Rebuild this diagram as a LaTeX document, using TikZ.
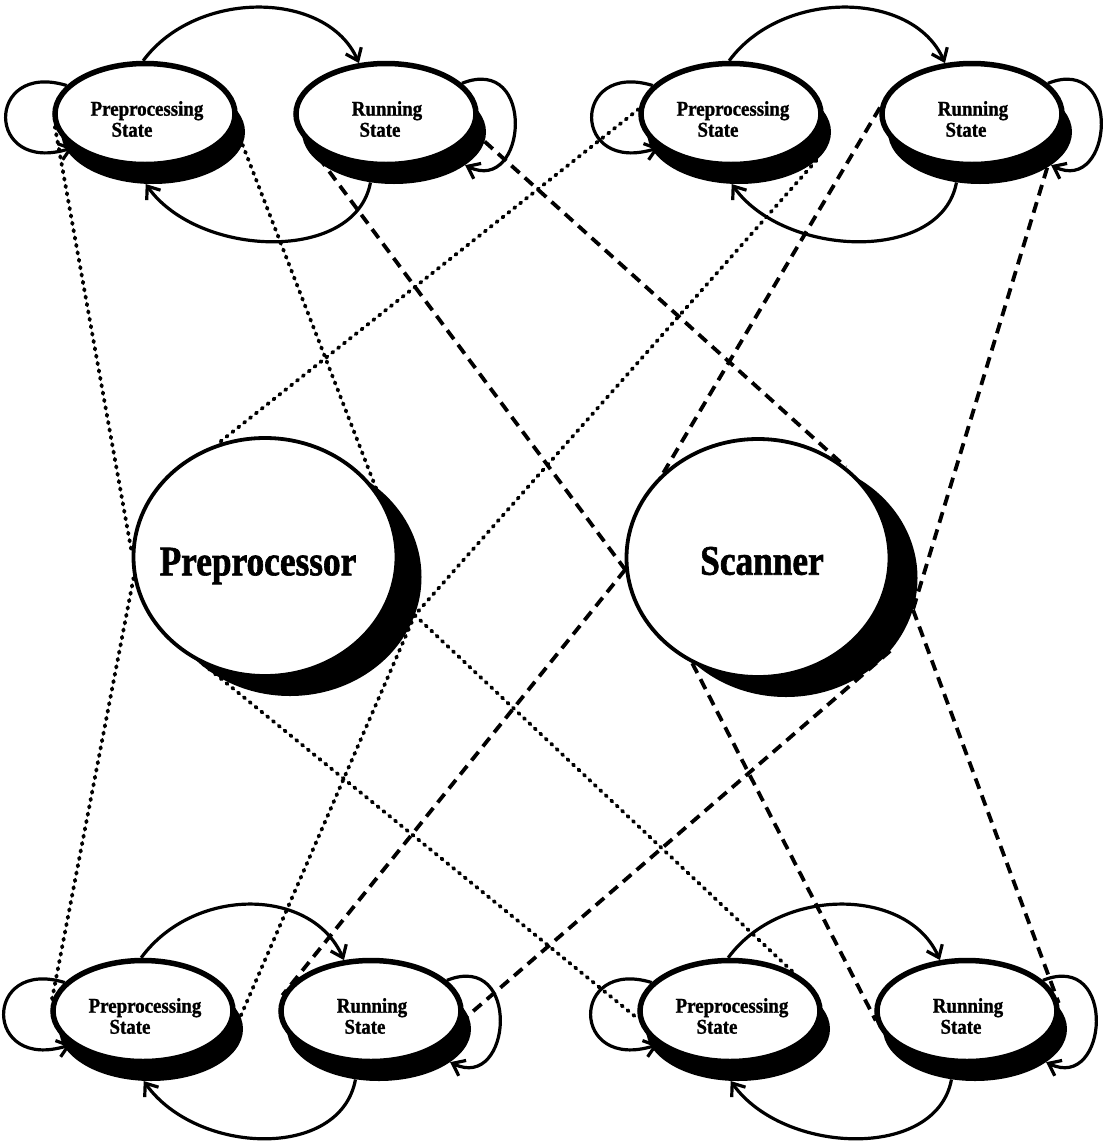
\documentclass[tikz,border=0pt]{standalone}
\usepackage{fontspec}
\setmainfont{Liberation Serif}
\newfontfamily\smallfont[FakeStretch=0.9,FakeBold=1.2]{Liberation Serif}
\newfontfamily\bigfont[FakeStretch=0.84,FakeBold=1.5]{Liberation Serif}
\usetikzlibrary{shapes.geometric,arrows.meta,calc}
\pgfdeclarelayer{bg}
\pgfsetlayers{bg,main}
\begin{document}
\begin{tikzpicture}[x=1pt,y=-1pt,
  smallell/.style={ellipse, draw, line width=5.5pt, fill=white, minimum width=180pt, minimum height=101pt, inner sep=0pt},
  smallsh/.style={ellipse, fill=black, minimum width=184pt, minimum height=104pt, inner sep=0pt},
  smalltext/.style={font=\smallfont\bfseries\fontsize{21}{21}\selectfont, align=center, inner sep=0pt},
  bigell/.style={ellipse, draw, line width=3.8pt, fill=white, minimum width=263pt, minimum height=238pt, inner sep=0pt},
  bigsh/.style={ellipse, fill=black, minimum width=263pt, minimum height=238pt, inner sep=0pt},
  bigtext/.style={font=\bigfont\bfseries\fontsize{42}{42}\selectfont, inner sep=0pt},
  loopline/.style={line width=3.2pt, -{Straight Barb[length=11pt,width=17pt]}},
  preline/.style={line width=3.8pt, line cap=round, dash pattern=on 1.5pt off 6pt},
  scanline/.style={line width=3.8pt, dash pattern=on 11pt off 7pt}]
\begin{pgfonlayer}{bg}
\fill[white] (0,0) rectangle (1108,1141);
\end{pgfonlayer}
\useasboundingbox (0,0) rectangle (1108,1141);

% central ellipses
\node[bigsh] (preS) at (290,577) {};
\node[bigell] (pre) at (265,557) {};
\node[bigtext] (pret) at (258,566) {Preprocessor};
\node[bigsh] (scS) at (786,578) {};
\node[bigell] (sc) at (758,558) {};
\node[bigtext] (sct) at (762,561) {Scanner};

% the four state pairs
\foreach \g/\px/\rx/\yy in {tl/145/386/114, tr/731/972/114, bl/143/371/1011, br/730/967/1011}{
  \node[smallsh] (\g psS) at (\px+8,\yy+18) {};
  \node[smallsh] (\g rsS) at (\rx+8,\yy+18) {};
  \node[smallell] (\g ps) at (\px,\yy) {};
  \node[smallell] (\g rs) at (\rx,\yy) {};
  \node[smalltext] (\g pst) at (\px+2,\yy+5) {Preprocessing\\State\hspace*{30pt}};
  \node[smalltext] (\g rst) at (\rx+1,\yy+5) {Running\\State\hspace*{14pt}};
  \draw[loopline] (\g ps.92) .. controls +(53,-72) and +(-32,-73) .. (\g rs.118);
  \draw[loopline] (\g rsS.245) .. controls +(-15,81) and +(53,74) .. (\g psS.262);
  \draw[loopline] (\g ps.160) .. controls +(-82,-25) and +(-88,28) .. (\g ps.205);
  \draw[loopline] (\g rs.22) .. controls +(75,-30) and +(62,30) .. (\g rsS.-25);
}

\begin{pgfonlayer}{bg}
  % Preprocessor links (dotted)
  \draw[preline] (tlps.188) -- (pre.178);
  \draw[preline] (pre.189) -- (blps.175);
  \draw[preline] (tlpsS.-8) -- (pre.30);
  \draw[preline] (trps.177) -- (pre.113);
  \draw[preline] (trpsS.-20) -- (preS.-17);
  \draw[preline] (preS.-17) -- (blpsS.8);
  \draw[preline] (preS.-17) -- (brps.32);
  \draw[preline] (pre.240) -- (brps.185);
  % Scanner links (dashed)
  \draw[scanline] (tlrs.200) -- (sc.185);
  \draw[scanline] (sc.185) -- (blrs.170);
  \draw[scanline] (tlrsS.-6) -- (sc.46);
  \draw[scanline] (trrs.176) -- (sc.138);
  \draw[scanline] (trrsS.-28) -- (scS.-14);
  \draw[scanline] (scS.-14) -- (brrs.5);
  \draw[scanline] (sc.238) -- (brrs.186);
  \draw[scanline] (scS.-35) -- (blrs.-6);
\end{pgfonlayer}
\end{tikzpicture}
\end{document}
